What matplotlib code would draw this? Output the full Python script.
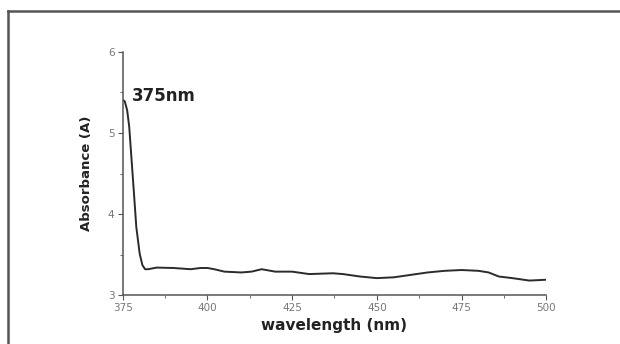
import matplotlib; matplotlib.use("Agg")
import matplotlib.pyplot as plt
from matplotlib.ticker import MultipleLocator
from matplotlib.lines import Line2D

plt.rcParams['font.family'] = ['DejaVu Sans']

# UV-vis spectrum
wavelength = [375, 375.6, 376.3, 376.9, 377.6, 378.3, 379.0, 380.0, 380.8, 381.6, 382.5,
              385, 390, 395, 398, 400, 402, 405, 410, 413, 416, 420, 425, 430, 437,
              440, 445, 450, 455, 460, 465, 470, 475, 480, 483, 486, 490, 495, 500]
absorbance = [5.41, 5.39, 5.28, 5.08, 4.67, 4.26, 3.84, 3.51, 3.37, 3.32, 3.32,
              3.34, 3.335, 3.32, 3.335, 3.335, 3.32, 3.29, 3.28, 3.29, 3.32, 3.29, 3.29, 3.26, 3.27,
              3.26, 3.23, 3.21, 3.22, 3.25, 3.28, 3.30, 3.31, 3.30, 3.28, 3.23, 3.21, 3.18, 3.19]
x_ticks = [375, 400, 425, 450, 475, 500]
y_ticks = [3, 4, 5, 6]

fig = plt.figure(figsize=(6.2, 3.44), dpi=100)
ax = fig.add_axes([0.198, 0.142, 0.683, 0.707])
ax.plot(wavelength, absorbance, color="#2b2b2b", lw=1.4, solid_joinstyle="round")
ax.set_xlim(375, 500); ax.set_ylim(3, 6)
ax.set_xticks(x_ticks); ax.set_yticks(y_ticks)
ax.xaxis.set_minor_locator(MultipleLocator(12.5))
ax.yaxis.set_minor_locator(MultipleLocator(0.5))
for s in ("top", "right"):
    ax.spines[s].set_visible(False)
for s in ("left", "bottom"):
    ax.spines[s].set_color("#555555"); ax.spines[s].set_linewidth(1.1)
ax.tick_params(which="both", direction="out", color="#555555", labelcolor="#777777", labelsize=7.5, pad=2.5)
ax.tick_params(which="major", length=3.5)
ax.tick_params(which="minor", length=2)
ax.set_xlabel("wavelength (nm)", fontsize=11, fontweight="bold", color="#222222", labelpad=3)
ax.set_ylabel("Absorbance (A)", fontsize=9.5, fontweight="bold", color="#222222", labelpad=11)
ax.text(377.6, 5.395, "375nm", fontsize=12, fontweight="bold", color="#222222", va="baseline")

# outer frame of the figure (top and left edges visible)
fig.add_artist(Line2D([0.013, 1.0], [0.968, 0.968], color="#555555", lw=1.8, transform=fig.transFigure))
fig.add_artist(Line2D([0.013, 0.013], [0.0, 0.968], color="#555555", lw=1.8, transform=fig.transFigure))

fig.savefig("out.png")
